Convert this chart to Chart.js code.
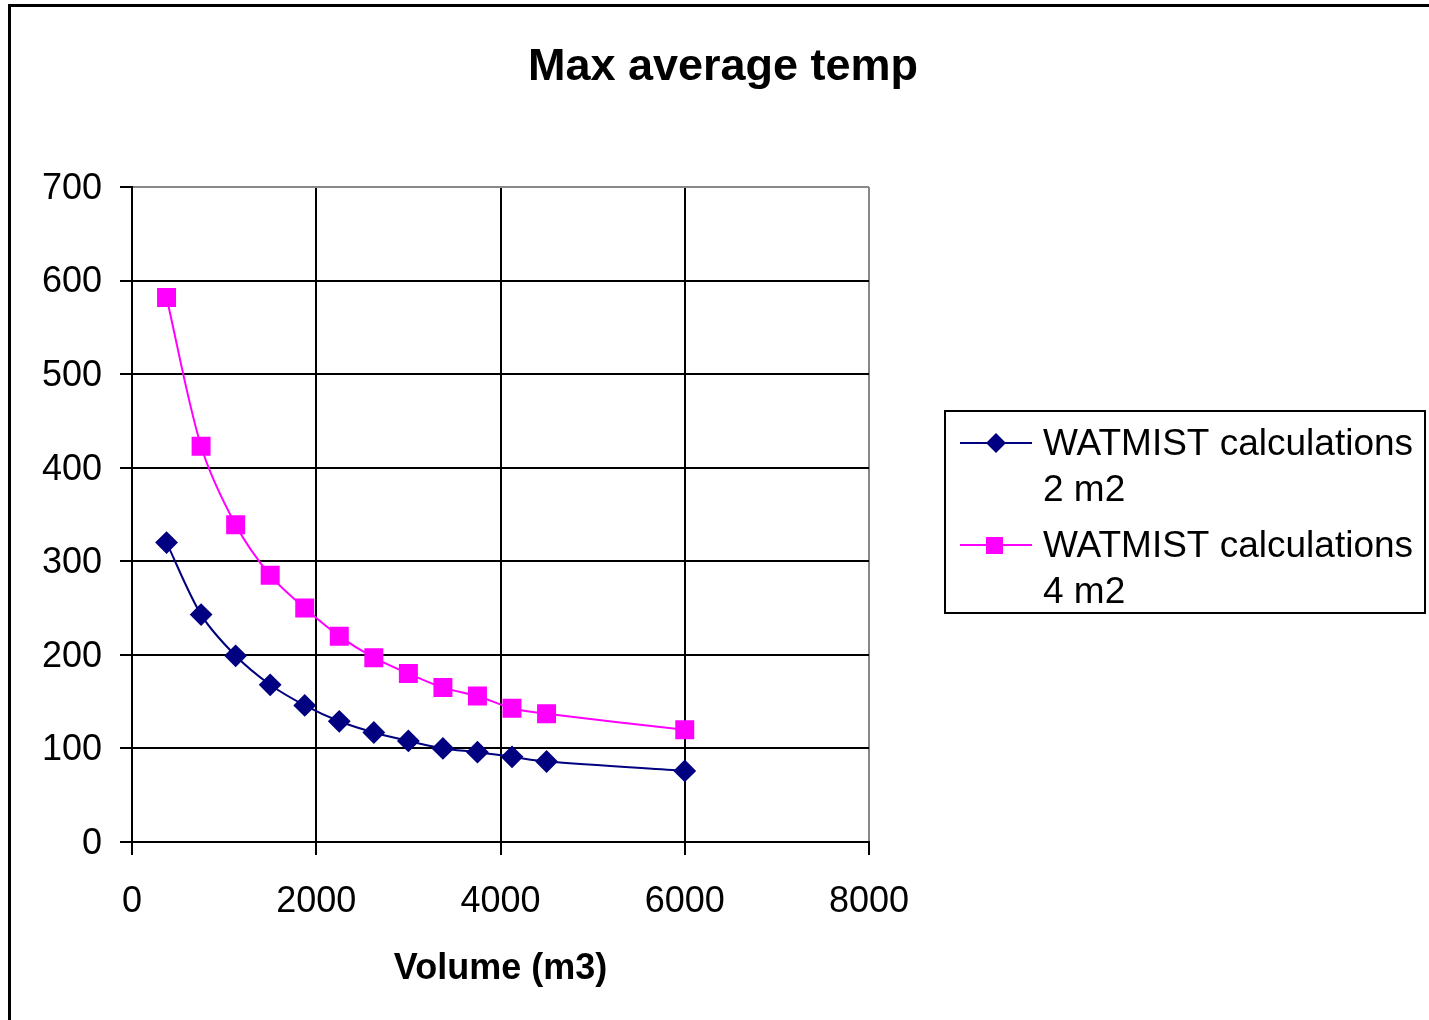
<!DOCTYPE html>
<html>
<head>
<meta charset="utf-8">
<title>Max average temp</title>
<script src="https://cdn.jsdelivr.net/npm/chart.js@4.4.1/dist/chart.umd.min.js"></script>
<style>
    html, body { margin: 0; padding: 0; background: #fff; }
    #wrap { width: 1429px; height: 1020px; position: relative; }
</style>
</head>
<body>
<div id="wrap"><canvas id="tempChart" width="1429" height="1020"></canvas></div>
<script>
// --- Data ---
const volume = [375, 750, 1125, 1500, 1875, 2250, 2625, 3000, 3375, 3750, 4125, 4500, 6000];
const temp2m2 = [320, 243, 199, 168, 146, 129, 117, 108, 100, 96, 91, 86, 76];
const temp4m2 = [582, 423, 339, 285, 250, 220, 197, 180, 165, 156, 143, 137, 120];
const seriesNames = [['WATMIST calculations', '2 m2'], ['WATMIST calculations', '4 m2']];
const xTicks = [0, 2000, 4000, 6000, 8000];
const yTicks = [0, 100, 200, 300, 400, 500, 600, 700];

const FONT = "'Liberation Sans', Arial, sans-serif";
const NAVY = '#000080';
const MAGENTA = '#ff00ff';

function toPoints(ys) {
    return volume.map((v, i) => ({ x: v, y: ys[i] }));
}

// frame, centred title and the legend box on the right
const extras = {
    id: 'extras',
    afterDraw(chart) {
        const ctx = chart.ctx;
        ctx.save();
        ctx.strokeStyle = '#000';
        ctx.lineWidth = 3;
        ctx.beginPath();
        ctx.moveTo(9.5, 1020);
        ctx.lineTo(9.5, 5.5);
        ctx.lineTo(1429, 5.5);
        ctx.stroke();

        ctx.fillStyle = '#000';
        ctx.font = 'bold 45px ' + FONT;
        ctx.textAlign = 'center';
        ctx.textBaseline = 'middle';
        ctx.fillText('Max average temp', 723, 68);

        // legend
        ctx.lineWidth = 2;
        ctx.strokeRect(945, 411, 480, 202);
        ctx.font = '37px ' + FONT;
        ctx.textAlign = 'left';
        const rows = [443, 545];
        chart.data.datasets.forEach((ds, i) => {
            const y = rows[i];
            ctx.strokeStyle = ds.borderColor;
            ctx.lineWidth = 2;
            ctx.beginPath();
            ctx.moveTo(960, y);
            ctx.lineTo(1032, y);
            ctx.stroke();
            ctx.fillStyle = ds.pointBackgroundColor;
            ctx.beginPath();
            if (ds.pointStyle === 'rectRot') {
                ctx.moveTo(996, y - 10);
                ctx.lineTo(1006, y);
                ctx.lineTo(996, y + 10);
                ctx.lineTo(986, y);
            } else {
                ctx.rect(986, y - 8, 17, 17);
            }
            ctx.closePath();
            ctx.fill();
            ctx.fillStyle = '#000';
            seriesNames[i].forEach((line, j) => ctx.fillText(line, 1043, y + 2 + j * 46));
        });
        ctx.restore();
    }
};

new Chart(document.getElementById('tempChart').getContext('2d'), {
    type: 'line',
    data: {
        datasets: [{
            label: seriesNames[0].join(' '),
            data: toPoints(temp2m2),
            borderColor: NAVY,
            backgroundColor: NAVY,
            pointBackgroundColor: NAVY,
            pointBorderColor: NAVY,
            pointStyle: 'rectRot',
            pointRadius: 10,
            borderWidth: 2,
            tension: 0.3
        }, {
            label: seriesNames[1].join(' '),
            data: toPoints(temp4m2),
            borderColor: MAGENTA,
            backgroundColor: MAGENTA,
            pointBackgroundColor: MAGENTA,
            pointBorderColor: MAGENTA,
            pointStyle: 'rect',
            pointRadius: 12,
            borderWidth: 2,
            tension: 0.3
        }]
    },
    options: {
        responsive: false,
        animation: false,
        layout: { padding: { left: 0, right: 560, top: 187, bottom: 0 } },
        plugins: {
            legend: { display: false },
            tooltip: { enabled: false },
            title: { display: false }
        },
        scales: {
            x: {
                type: 'linear',
                min: 0,
                max: 8000,
                afterBuildTicks: (s) => { s.ticks = xTicks.map(v => ({ value: v })); },
                afterFit: (s) => { s.height = 178; },
                border: { color: '#000', width: 2 },
                grid: {
                    color: (c) => c.tick && c.tick.value === 8000 ? '#888' : '#000',
                    lineWidth: 2,
                    tickColor: '#000',
                    tickLength: 13
                },
                ticks: {
                    color: '#000',
                    font: { family: FONT, size: 36 },
                    padding: 25,
                    maxRotation: 0,
                    callback: (v) => String(v)
                },
                title: {
                    display: true,
                    text: 'Volume (m3)',
                    color: '#000',
                    font: { family: FONT, size: 36, weight: 'bold' },
                    padding: { top: 0, bottom: 29 }
                }
            },
            y: {
                min: 0,
                max: 700,
                afterBuildTicks: (s) => { s.ticks = yTicks.map(v => ({ value: v })); },
                afterFit: (s) => { s.width = 132; },
                border: { color: '#000', width: 2 },
                grid: {
                    color: (c) => c.tick && c.tick.value === 700 ? '#888' : '#000',
                    lineWidth: 2,
                    tickColor: '#000',
                    tickLength: 12
                },
                ticks: {
                    color: '#000',
                    font: { family: FONT, size: 36 },
                    padding: 18,
                    labelOffset: 2
                }
            }
        }
    },
    plugins: [extras]
});
</script>
</body>
</html>
